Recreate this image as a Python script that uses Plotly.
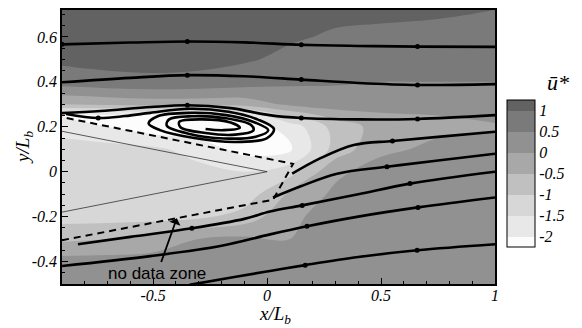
import plotly.graph_objects as go

# ---- mean streamwise velocity field u* on a coarse measurement grid ----
x_grid = [-0.9, -0.7, -0.5, -0.3, -0.1, 0.1, 0.3, 0.5, 0.75, 1.0]
y_grid = [-0.5, -0.4, -0.3, -0.2, -0.1, 0.0, 0.1, 0.2, 0.25, 0.3, 0.4, 0.5, 0.6, 0.72]
u_star = [
    [0.25, 0.25, 0.25, 0.25, 0.2, 0.1, 0.2, 0.25, 0.25, 0.25],
    [0.2, 0.2, 0.2, 0.2, 0.2, 0.05, 0.2, 0.25, 0.25, 0.25],
    [-0.6, -0.5, -0.3, 0.0, 0.1, 0.0, 0.2, 0.25, 0.25, 0.25],
    [-1.2, -1.2, -1.2, -1.1, -0.8, -0.1, 0.2, 0.25, 0.25, 0.25],
    [-1.3, -1.3, -1.3, -1.3, -1.3, -0.4, 0.1, 0.25, 0.25, 0.25],
    [-1.3, -1.3, -1.3, -1.35, -1.5, -1.2, -0.1, 0.2, 0.25, 0.25],
    [-1.3, -1.3, -1.4, -1.7, -2.2, -2.1, -0.8, -0.1, 0.1, 0.15],
    [-1.7, -2.0, -2.3, -2.4, -2.3, -1.8, -0.8, -0.3, -0.1, -0.05],
    [-2.0, -2.1, -2.2, -2.2, -2.0, -0.9, -0.3, -0.1, 0.0, 0.1],
    [-0.5, -0.4, -0.3, -0.3, -0.3, 0.1, 0.25, 0.3, 0.3, 0.35],
    [0.75, 0.85, 0.9, 0.85, 0.75, 0.6, 0.55, 0.5, 0.5, 0.5],
    [1.1, 1.15, 1.15, 1.15, 1.05, 0.9, 0.8, 0.75, 0.75, 0.75],
    [1.15, 1.2, 1.2, 1.2, 1.15, 1.05, 0.95, 0.9, 0.9, 0.9],
    [1.2, 1.2, 1.2, 1.2, 1.2, 1.15, 1.1, 1.1, 1.05, 1.0],
]

# contour levels and legend ticks
level_start, level_end, level_step = -2.0, 1.0, 0.5
cbar_ticks = [1, 0.5, 0, -0.5, -1, -1.5, -2]
cbar_text = ["1", "0.5", "0", "-0.5", "-1", "-1.5", "-2"]
band_grays = [252, 232, 215, 192, 168, 145, 122, 98]

# ---- streamlines (x/Lb, y/Lb) ----
s1_x = [-0.9, -0.6, -0.35, -0.1, 0.15, 0.4, 0.66, 1.0]
s1_y = [0.567, 0.575, 0.58, 0.576, 0.565, 0.56, 0.557, 0.556]
s2_x = [-0.9, -0.6, -0.35, -0.1, 0.15, 0.4, 0.66, 1.0]
s2_y = [0.398, 0.418, 0.43, 0.425, 0.41, 0.395, 0.386, 0.39]
s3_x = [-0.9, -0.73, -0.51, -0.35, -0.16, 0.01, 0.15, 0.4, 0.66, 1.0]
s3_y = [0.261, 0.27, 0.288, 0.296, 0.283, 0.252, 0.239, 0.233, 0.235, 0.252]
spiral_x = [-0.882, -0.741, -0.623, -0.513, -0.34, -0.17, -0.04, 0.03, 0.0,
            -0.14, -0.32, -0.47, -0.52, -0.48, -0.34, -0.18, -0.05, 0.005,
            -0.05, -0.19, -0.34, -0.44, -0.43, -0.33, -0.18, -0.07, -0.06,
            -0.14, -0.27, -0.38, -0.385, -0.29, -0.16, -0.12, -0.19, -0.27]
spiral_y = [0.257, 0.239, 0.248, 0.262, 0.28, 0.267, 0.232, 0.19, 0.15,
            0.132, 0.15, 0.185, 0.215, 0.247, 0.262, 0.252, 0.218, 0.185,
            0.156, 0.148, 0.168, 0.205, 0.233, 0.247, 0.238, 0.208, 0.184,
            0.165, 0.172, 0.198, 0.222, 0.233, 0.219, 0.196, 0.185, 0.19]
l4_x = [0.11, 0.23, 0.38, 0.55, 0.75, 1.0]
l4_y = [-0.009, 0.058, 0.119, 0.137, 0.155, 0.178]
l5_x = [0.026, 0.145, 0.307, 0.526, 0.75, 1.0]
l5_y = [-0.115, -0.066, -0.009, 0.022, 0.05, 0.08]
l6_x = [-0.83, -0.6, -0.33, -0.1, 0.013, 0.154, 0.4, 0.627, 1.0]
l6_y = [-0.323, -0.29, -0.252, -0.21, -0.177, -0.15, -0.1, -0.053, 0.0]
l7_x = [-0.9, -0.513, -0.2, 0.013, 0.175, 0.4, 0.662, 1.0]
l7_y = [-0.42, -0.376, -0.33, -0.279, -0.243, -0.2, -0.159, -0.115]
l8_x = [-0.34, -0.15, 0.013, 0.167, 0.4, 0.658, 1.0]
l8_y = [-0.504, -0.47, -0.442, -0.416, -0.38, -0.35, -0.323]

# vertices that carry a direction marker on each streamline
streamlines = [
    (s1_x, s1_y, [0, 2, 4, 6]),
    (s2_x, s2_y, [2, 4, 6]),
    (s3_x, s3_y, [3, 6, 8]),
    (spiral_x, spiral_y, [1]),
    (l4_x, l4_y, [3]),
    (l5_x, l5_y, [3]),
    (l6_x, l6_y, [2, 5, 7]),
    (l7_x, l7_y, [4, 6]),
    (l8_x, l8_y, [3, 5]),
]

# no-data zone outline and model wedge
nodata_x = [-0.9, 0.026, 0.114, -0.9]
nodata_y = [-0.305, -0.125, 0.035, 0.243]
wedge_x = [-0.9, 0.0, -0.9]
wedge_y = [0.18, 0.0, -0.18]

n_bands = len(band_grays)
colorscale = [[i / (n_bands - 1), f"rgb({g},{g},{g})"] for i, g in enumerate(band_grays)]

serif_it = dict(family="Liberation Serif", style="italic", color="black")

fig = go.Figure()
fig.add_trace(go.Contour(
    x=x_grid, y=y_grid, z=u_star,
    colorscale=colorscale,
    autocontour=False,
    contours=dict(start=level_start, end=level_end, size=level_step,
                  coloring="fill", showlines=False),
    line=dict(width=0),
    colorbar=dict(
        x=1.028, xanchor="left", xpad=0,
        y=0.402, yanchor="middle", ypad=0,
        len=0.536, lenmode="fraction", thickness=28,
        outlinecolor="black", outlinewidth=1,
        tickmode="array", tickvals=cbar_ticks, ticktext=cbar_text,
        ticks="", tickfont=dict(size=16, **serif_it),
    ),
    hoverinfo="skip",
))

fig.add_trace(go.Scatter(x=wedge_x, y=wedge_y, mode="lines",
                         line=dict(color="rgb(50,50,50)", width=0.8),
                         showlegend=False, hoverinfo="skip"))
fig.add_trace(go.Scatter(x=nodata_x, y=nodata_y, mode="lines",
                         line=dict(color="black", width=2, dash="7px,5px"),
                         showlegend=False, hoverinfo="skip"))

mark_x, mark_y = [], []
for sx, sy, marks in streamlines:
    fig.add_trace(go.Scatter(
        x=sx, y=sy, mode="lines",
        line=dict(color="black", width=2.6, shape="spline", smoothing=1.0),
        showlegend=False, hoverinfo="skip"))
    mark_x += [sx[i] for i in marks]
    mark_y += [sy[i] for i in marks]

fig.add_trace(go.Scatter(
    x=mark_x, y=mark_y, mode="markers",
    marker=dict(color="black", size=5, symbol="circle", line=dict(width=0)),
    showlegend=False, hoverinfo="skip"))

axis_common = dict(
    showline=True, linecolor="black", linewidth=1.5, mirror=True,
    ticks="inside", ticklen=6, tickcolor="black", tickwidth=1.2,
    showgrid=False, zeroline=False,
    tickfont=dict(size=16, **serif_it),
)

fig.update_xaxes(range=[-0.9, 1.0], tickmode="array",
                 tickvals=[-0.5, 0, 0.5, 1], ticktext=["-0.5", "0", "0.5", "1"],
                 ticklabelstandoff=-4,
                 minor=dict(ticks="inside", ticklen=3, dtick=0.1, tick0=0,
                            tickcolor="black"),
                 **axis_common)
fig.update_yaxes(range=[-0.5, 0.72], tickmode="array",
                 tickvals=[-0.4, -0.2, 0, 0.2, 0.4, 0.6],
                 ticktext=["-0.4", "-0.2", "0", "0.2", "0.4", "0.6"],
                 minor=dict(ticks="inside", ticklen=3, dtick=0.05, tick0=0,
                            tickcolor="black"),
                 **axis_common)

fig.update_layout(
    width=582, height=328,
    margin=dict(l=62, r=87, t=8, b=44),
    paper_bgcolor="white", plot_bgcolor="white",
    showlegend=False,
    annotations=[
        dict(text="x/L<sub>b</sub>", xref="paper", yref="paper",
             x=0.492, y=-0.113, xanchor="center", yanchor="middle",
             showarrow=False, font=dict(size=19, **serif_it)),
        dict(text="y/L<sub>b</sub>", xref="paper", yref="paper",
             x=-0.088, y=0.5, xanchor="center", yanchor="middle",
             textangle=-90, showarrow=False, font=dict(size=19, **serif_it)),
        dict(text="u\u0304*", xref="paper", yref="paper",
             x=1.145, y=0.735, xanchor="center", yanchor="middle",
             showarrow=False, font=dict(size=22, **serif_it)),
        dict(text="no data zone", x=-0.396, y=-0.207, xref="x", yref="y",
             ax=-0.482, ay=-0.451, axref="x", ayref="y",
             showarrow=True, arrowhead=1, arrowsize=1.1, arrowwidth=1.8,
             arrowcolor="black",
             font=dict(family="Liberation Sans", size=17, color="black")),
    ],
)

fig.write_html("out.html")
